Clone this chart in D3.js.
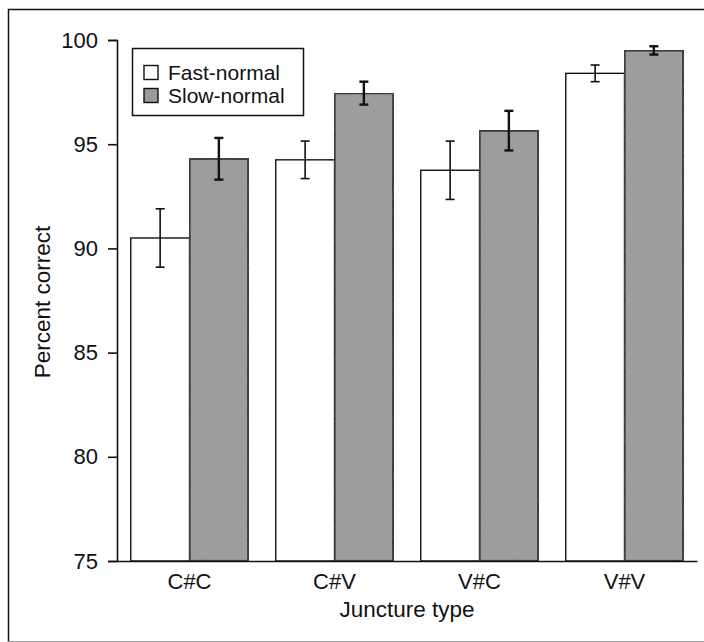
<!DOCTYPE html>
<html>
<head>
<meta charset="utf-8">
<script src="https://cdn.jsdelivr.net/npm/d3@7"></script>
<style>
  body { margin: 0; background: #fff; overflow: hidden; }
  svg { display: block; font-family: "Liberation Sans", Arial, sans-serif; }
</style>
</head>
<body>
<div id="chart"></div>
<script>
// values
var junctures = ["C#C", "C#V", "V#C", "V#V"];
var conditions = ["Fast-normal", "Slow-normal"];
var fastMean = [90.5, 94.25, 93.75, 98.4];
var fastErr  = [1.4, 0.9, 1.4, 0.4];
var slowMean = [94.3, 97.45, 95.65, 99.5];
var slowErr  = [1.0, 0.55, 0.95, 0.2];
var yTicks = [75, 80, 85, 90, 95, 100];

var W = 704, H = 642;
var fills = {"Fast-normal": "#ffffff", "Slow-normal": "#9a9a9a"};

var rows = [];
for (var i = 0; i < junctures.length; i++) {
  rows.push({j: junctures[i], c: "Fast-normal", v: fastMean[i], e: fastErr[i]});
  rows.push({j: junctures[i], c: "Slow-normal", v: slowMean[i], e: slowErr[i]});
}

var svg = d3.select("#chart").append("svg")
  .attr("width", W).attr("height", H);

// grainy grey like the printed figure
var defs = svg.append("defs");
var f = defs.append("filter").attr("id", "grain")
  .attr("x", 0).attr("y", 0).attr("width", 1).attr("height", 1);
f.append("feTurbulence").attr("type", "fractalNoise")
  .attr("baseFrequency", 0.9).attr("numOctaves", 2).attr("result", "n");
f.append("feColorMatrix").attr("in", "n").attr("type", "matrix")
  .attr("values", "0 0 0 0 0.5  0 0 0 0 0.5  0 0 0 0 0.5  0 0 0 0.18 0")
  .attr("result", "g");
f.append("feComposite").attr("in", "g").attr("in2", "SourceGraphic").attr("operator", "atop");

// outer frame: top and left lines, faint bottom edge
svg.append("path")
  .attr("d", "M8.5,642V9.5H704")
  .attr("fill", "none").attr("stroke", "#111").attr("stroke-width", 1.5);
svg.append("line")
  .attr("x1", 8).attr("x2", 704).attr("y1", 641.5).attr("y2", 641.5)
  .attr("stroke", "#999").attr("stroke-width", 1);

var x0 = d3.scaleBand().domain(junctures).range([117, 697])
  .paddingInner(0.19).paddingOuter(0.095);
var x1 = d3.scaleBand().domain(conditions).range([0, x0.bandwidth()]);
var y = d3.scaleLinear().domain([75, 100]).range([561, 40]);

// bars
svg.append("g").selectAll("rect").data(rows).enter().append("rect")
  .attr("x", function(d){ return x0(d.j) + x1(d.c); })
  .attr("y", function(d){ return y(d.v); })
  .attr("width", x1.bandwidth())
  .attr("height", function(d){ return y(75) - y(d.v); })
  .attr("fill", function(d){ return fills[d.c]; })
  .attr("filter", function(d){ return d.c == "Slow-normal" ? "url(#grain)" : null; })
  .attr("stroke", "#111")
  .attr("stroke-width", function(d){ return d.c == "Slow-normal" ? 2.2 : 1.4; });

// error bars
var eb = svg.append("g").attr("stroke", "#111").selectAll("g").data(rows).enter().append("g")
  .attr("stroke-width", function(d){ return d.c == "Slow-normal" ? 2.4 : 1.6; });
function cx(d){ return x0(d.j) + x1(d.c) + x1.bandwidth() / 2; }
eb.append("line")
  .attr("x1", cx).attr("x2", cx)
  .attr("y1", function(d){ return y(d.v + d.e); })
  .attr("y2", function(d){ return y(d.v - d.e); });
eb.append("line")
  .attr("x1", function(d){ return cx(d) - 4.5; }).attr("x2", function(d){ return cx(d) + 4.5; })
  .attr("y1", function(d){ return y(d.v + d.e); }).attr("y2", function(d){ return y(d.v + d.e); });
eb.append("line")
  .attr("x1", function(d){ return cx(d) - 4.5; }).attr("x2", function(d){ return cx(d) + 4.5; })
  .attr("y1", function(d){ return y(d.v - d.e); }).attr("y2", function(d){ return y(d.v - d.e); });

// axes
var yAxis = svg.append("g")
  .attr("transform", "translate(117,0)")
  .call(d3.axisLeft(y).tickValues(yTicks).tickSize(9).tickPadding(10).tickFormat(d3.format("d")));
var xAxis = svg.append("g")
  .attr("transform", "translate(0,561)")
  .call(d3.axisBottom(x0).tickSize(0).tickPadding(12));
[yAxis, xAxis].forEach(function(a){
  a.selectAll("path,line").attr("stroke", "#111").attr("stroke-width", 1.6);
  a.selectAll("text").attr("fill", "#111").style("font-size", "22px");
});

svg.append("text")
  .attr("transform", "translate(50,302) rotate(-90)")
  .attr("text-anchor", "middle")
  .attr("fill", "#111").style("font-size", "22.5px")
  .text("Percent correct");
svg.append("text")
  .attr("x", 407).attr("y", 617)
  .attr("text-anchor", "middle")
  .attr("fill", "#111").style("font-size", "22.5px")
  .text("Juncture type");

// legend
var lg = svg.append("g");
lg.append("rect")
  .attr("x", 132.5).attr("y", 48.5).attr("width", 171).attr("height", 67)
  .attr("fill", "#fff").attr("stroke", "#111").attr("stroke-width", 1.5);
var items = lg.selectAll("g").data(conditions).enter().append("g")
  .attr("transform", function(d, i){ return "translate(144," + (65.5 + i * 23) + ")"; });
items.append("rect")
  .attr("width", 14).attr("height", 14)
  .attr("fill", function(d){ return fills[d]; })
  .attr("stroke", "#111").attr("stroke-width", 1.4);
items.append("text")
  .attr("x", 24).attr("y", 7).attr("dy", "0.36em")
  .attr("fill", "#111").style("font-size", "21px")
  .text(function(d){ return d; });
</script>
</body>
</html>
